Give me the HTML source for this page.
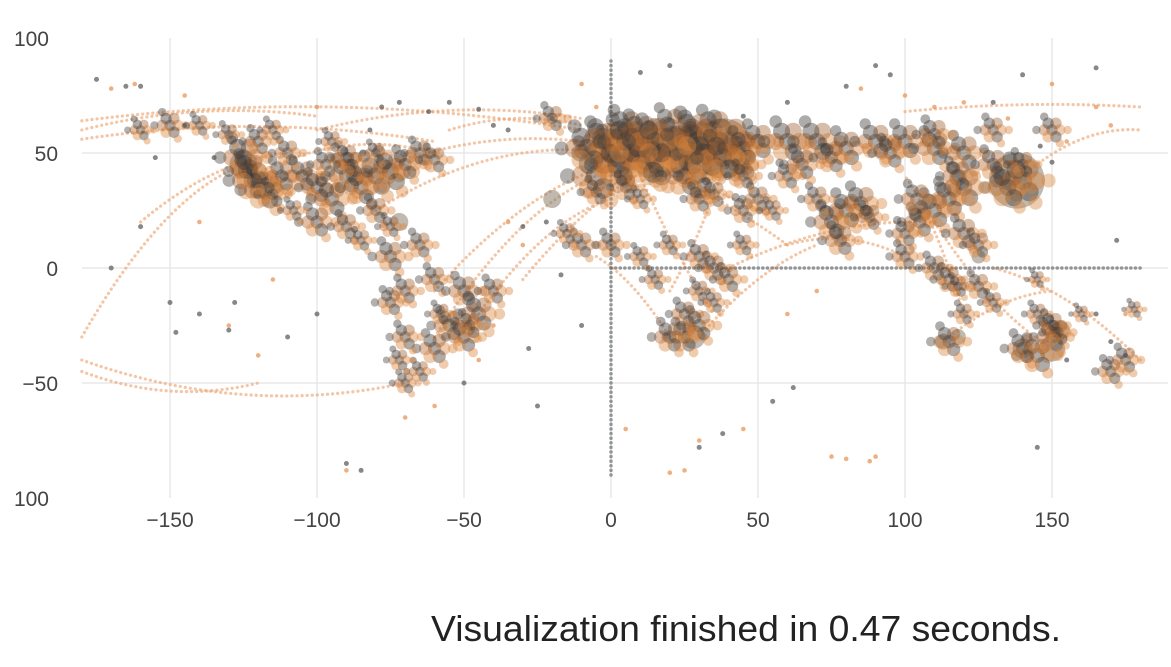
<!DOCTYPE html>
<html><head><meta charset="utf-8">
<style>
html,body{margin:0;padding:0;background:#fff;width:1171px;height:667px;overflow:hidden}
svg text{font-family:"Liberation Sans",sans-serif}
</style></head><body>
<svg id="chart" width="1171" height="667" viewBox="0 0 1171 667">
<g id="grid"></g>
<g id="arcs"></g>
<g id="lines"></g>
<g id="marks"></g>
<g id="ticks"></g>
<text x="431" y="641" font-size="36" fill="#222" textLength="630" lengthAdjust="spacingAndGlyphs">Visualization finished in 0.47 seconds.</text>
</svg>
<script>
const xTicks=[-150,-100,-50,0,50,100,150];
const yTicks=[100,50,0,-50,-100];
const xTickLabels=["−150","−100","−50","0","50","100","150"];
const yTickLabels=["100","50","0","−50","100"];
// dense cluster points: lon, lat, size
const clusterLon=[-125,-122,-118,-112,-105,-100,-95,-90,-85,-80,-75,-70,-97,-110,-120,-100,-90,-80,-85,-75,-65,-60,-150,-140,-160,-80,-90,-115,-108,-88,-130,-115,-95,-123,
-75,-70,-60,-50,-45,-55,-60,-70,-75,-65,-70,-40,-65,-50,-58,-48,-72,
-5,0,10,20,30,40,15,25,5,20,35,-3,-20,50,45,30,10,-8,2,12,24,32,45,5,15,28,38,
60,70,80,90,100,110,120,130,140,135,120,115,110,105,100,80,75,78,70,50,45,35,55,120,125,100,110,115,125,85,60,45,140,130,150,65,95,88,104,118,75,110,
-10,0,10,20,30,35,40,30,25,25,20,30,35,5,10,-5,30,45,15,-15,
115,120,130,145,150,145,140,150,175,170,160,178,145,118,152];
const clusterLat=[48,38,34,40,40,35,30,40,35,40,42,45,45,50,55,20,18,25,12,18,50,47,62,62,60,50,48,32,25,45,58,60,55,42,
5,-10,-5,-10,-20,-25,-35,-30,-15,-45,-50,-10,10,-30,-20,-25,-40,
40,50,50,50,55,55,45,40,60,62,60,55,65,55,45,40,58,52,45,47,52,50,52,55,55,58,48,
55,55,52,55,55,52,50,45,38,35,35,30,25,20,15,25,20,12,30,30,25,32,25,15,10,5,0,-5,-8,28,40,40,45,60,60,45,50,22,30,40,48,58,
10,10,5,10,5,0,-5,-10,-20,-30,-30,-25,-15,35,30,33,30,10,-5,15,
-32,-20,-15,-20,-30,-38,-35,-25,-40,-45,-20,-18,-5,-8,-28];
const clusterSize=[9,9,9,7,7,7,8,8,8,9,9,7,6,6,6,7,6,6,5,5,6,6,6,5,5,5,6,6,5,6,5,5,5,8,
7,6,6,7,8,7,7,6,6,5,5,6,6,7,5,6,5,
11,12,12,12,11,11,10,9,9,8,9,9,6,8,7,8,9,10,10,11,11,11,8,10,10,10,10,
9,9,8,8,8,8,8,7,10,9,9,8,8,7,6,8,8,7,6,6,6,6,5,7,6,6,6,6,6,8,6,6,6,6,6,7,7,6,7,7,7,7,
6,6,5,5,6,6,6,5,6,7,7,7,5,6,5,6,6,5,5,5,
7,5,5,5,7,8,7,6,6,6,4,4,4,5,6];
// large translucent bubbles
const bubbleLon=[38,138,-125,150,28,140,-72,-20,118,153,113,125,-3,104];
const bubbleLat=[52,38,45,-35,-30,-35,20,30,-30,-27,-32,5,55,23];
const bubbleSize=[30,28,14,13,12,10,9,9,8,9,8,7,9,7];
// scattered outlier gray points
const grayLon=[-175,-165,-160,-155,-150,-145,-135,-128,-90,-82,-78,-40,-35,-25,-22,-160,-148,-130,-110,-100,-88,-72,-62,-55,-45,10,20,45,60,80,90,95,130,140,155,165,170,175,-20,30,38,55,165,-17,-30,145,150,146,172,-170,-140,-10,-28,62,-85,-50];
const grayLat=[82,79,79,48,-15,62,48,-15,-85,60,70,62,60,-60,20,18,-28,-27,-30,-20,45,72,68,72,69,85,88,66,72,79,88,84,72,84,-40,-20,-32,-38,65,-78,-72,-58,87,-3,18,-78,46,53,12,0,-20,-25,-35,-52,-88,-50];
// scattered orange points
const orangeLon=[-170,-162,-145,-130,-120,-90,-70,-60,-40,-30,20,25,30,45,75,80,88,90,85,100,110,120,135,155,170,175,-5,-10,5,-35,-45,60,70,150,165,-100,-140,-115];
const orangeLat=[78,80,75,-25,-38,-88,-65,-60,-25,10,-89,-88,-75,-70,-82,-83,-84,-82,78,75,70,72,65,55,62,-20,70,80,-70,20,-40,-20,-10,80,70,70,20,-5];
// route arcs: start, end, bulge (lat units)
const arcX1=[-180,-180,-180,-180,-180,-180,-80,-60,20,40,120,150,180,140,100,-100,-60,-30,0,10,60,-122,-5,0,-75,-160,30,115,-45,-55];
const arcY1=[-30,-40,-45,64,60,56,25,-10,-10,0,-20,-35,-40,40,68,60,-30,-5,50,40,10,40,5,45,45,20,-30,-30,-20,60];
const arcX2=[-125,-70,-120,-10,-100,-60,0,0,40,110,100,110,130,180,180,-10,-5,15,60,35,100,-60,20,50,-10,-110,70,150,0,-10];
const arcY2=[45,-50,-50,60,66,55,50,45,50,20,40,20,0,60,70,65,40,45,10,-20,5,50,-30,25,55,50,10,-10,30,62];
const arcBulge=[12,-10,-6,8,5,6,10,8,-4,6,6,-6,6,6,2,6,10,5,4,-3,5,8,4,3,5,6,5,4,8,4];
// dotted lines along equator & prime meridian
const lineX1=[0,0];const lineY1=[0,-90];const lineX2=[180,0];const lineY2=[0,90];

const X=v=>611+v*2.94, Y=v=>268-v*2.3;
const NS="http://www.w3.org/2000/svg";
function mk(t,p,a){const e=document.createElementNS(NS,t);for(const k in a)e.setAttribute(k,a[k]);p.appendChild(e);return e;}
const grid=document.getElementById('grid'),ticks=document.getElementById('ticks');
xTicks.forEach((t,i)=>{const l=mk('line',grid,{x1:X(t),x2:X(t),y1:38,y2:498,stroke:'#e8e8e8','stroke-width':1.5});

const tx=mk('text',ticks,{x:X(t),y:527,'text-anchor':'middle','font-size':21,fill:'#444'});tx.textContent=xTickLabels[i];
});
yTicks.forEach((t,i)=>{if(Math.abs(t)<100){const l=mk('line',grid,{x1:82,x2:1168,y1:Y(t),y2:Y(t),stroke:'#e8e8e8','stroke-width':1.5});
}
const tx=mk('text',ticks,{x:Math.abs(t)==100?49:58,y:Y(t)+8,'text-anchor':'end','font-size':21,fill:'#444'});tx.textContent=yTickLabels[i];
});
const arcs=document.getElementById('arcs');
arcX1.forEach((v,i)=>{const x1=X(v),y1=Y(arcY1[i]),x2=X(arcX2[i]),y2=Y(arcY2[i]);
const cx=(x1+x2)/2,cy=(y1+y2)/2-arcBulge[i]*2.3*2;
const p=mk('path',arcs,{d:`M${x1},${y1}Q${cx},${cy} ${x2},${y2}`,fill:'none',stroke:'#eba06a','stroke-opacity':0.6,'stroke-width':3.2,'stroke-linecap':'round','stroke-dasharray':'0.1 5'});
});
const lines=document.getElementById('lines');
lineX1.forEach((v,i)=>{const p=mk('line',lines,{x1:X(v),y1:Y(lineY1[i]),x2:X(lineX2[i]),y2:Y(lineY2[i]),stroke:'#6b6f72','stroke-opacity':0.7,'stroke-width':3.5,'stroke-linecap':'round','stroke-dasharray':'0.1 4.5'});
});
const marks=document.getElementById('marks');
bubbleLon.forEach((v,i)=>{const c=mk('circle',marks,{cx:X(v),cy:Y(bubbleLat[i]),r:bubbleSize[i],fill:'#8b8070','fill-opacity':0.55});
});
// each cluster rendered as a small rosette of overlapping dots
const petals=[[0,0],[1,0],[-1,0],[0.5,0.87],[-0.5,0.87],[0.5,-0.87],[-0.5,-0.87],[2,0],[-2,0],[1,1.7],[-1,-1.7]];
const petalColors=['#3d3a36','#d9853f','#b8662a','#3d3a36','#d9853f','#a0602f','#3d3a36','#d9853f','#4a4440','#d9853f','#3d3a36'];
clusterLon.forEach((v,i)=>{const s=clusterSize[i];const cx=X(v),cy=Y(clusterLat[i]);
petals.forEach((p,j)=>{const c=mk('circle',marks,{cx:cx+p[0]*s*1.3,cy:cy+p[1]*s*1.3,r:s*(j<7?0.95:0.7),fill:petalColors[j],'fill-opacity':0.42});
});});
grayLon.forEach((v,i)=>{const c=mk('circle',marks,{cx:X(v),cy:Y(grayLat[i]),r:2.5,fill:'#555','fill-opacity':0.7});
});
orangeLon.forEach((v,i)=>{const c=mk('circle',marks,{cx:X(v),cy:Y(orangeLat[i]),r:2.3,fill:'#e8955a','fill-opacity':0.75});
});
</script>
</body></html>
